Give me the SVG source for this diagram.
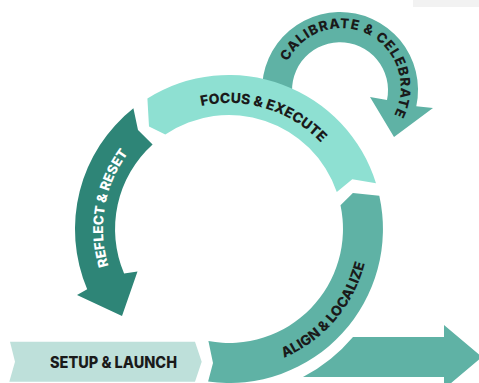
<svg xmlns="http://www.w3.org/2000/svg" width="479" height="383" viewBox="0 0 479 383">
  <style>
    .lbl { font-family: Inter, Lato, "Liberation Sans", sans-serif; font-weight: 800; fill: #1a1a1a; }
    .light { fill: #8ee0d2; }
    .mid { fill: #5fb2a5; }
    .dark { fill: #2e8577; }
    .pale { fill: #bee0da; }
  </style>
  <defs>
    <!-- baselines for the curved labels -->
    <path id="tp-cal" d="M283.6,72.7 A59.5,59.5 0 1 1 387.1,125.5"/>
    <path id="tp-focus" d="M143.1,136.8 A126,126 0 0 1 351.8,200.7"/>
    <path id="tp-reflect" d="M148,325.5 A126,126 0 0 1 185.9,110.6"/>
    <path id="tp-align" d="M203.5,366.7 A140,140 0 0 0 361,182.3"/>
  </defs>

  <rect x="413" y="0" width="66" height="7" fill="#f2f2f2"/>

  <!-- side loop, partly tucked under the top band -->
  <g id="calibrate">
    <path class="mid" d="M264.7,110.2 A78,78 0 1 1 416.3,106.2 L433,108 L394,137 L370,97 L387,100 A48,48 0 1 0 293.6,102.4 Z"/>
    <text class="lbl" font-size="13.5" letter-spacing="0.9"><textPath href="#tp-cal" startOffset="50%" text-anchor="middle">CALIBRATE &amp; CELEBRATE</textPath></text>
  </g>

  <g id="focus">
    <path class="light" d="M147.4,98.4 A154,154 0 0 1 376,183.2 L352.3,179.2 L336.8,191.9 A114,114 0 0 0 165.3,134.5 L149,126.6 Z"/>
    <text class="lbl" font-size="14"><textPath href="#tp-focus" startOffset="50%" text-anchor="middle">FOCUS &amp; EXECUTE</textPath></text>
  </g>

  <g id="align">
    <path class="mid" d="M379.3,195.7 A154,154 0 0 1 208.1,381.6 L213,363.1 L208.4,341.1 A114,114 0 0 0 340.5,205.3 L352.9,193 Z"/>
    <text class="lbl" font-size="14"><textPath href="#tp-align" startOffset="50%" text-anchor="middle">ALIGN &amp; LOCALIZE</textPath></text>
  </g>

  <g id="reflect">
    <path class="dark" d="M133.4,108.3 A154,154 0 0 0 87.2,289.2 L77,295 L122,316 L137.5,271.5 L124.1,273.5 A114,114 0 0 1 152.6,144.4 L138,130 Z"/>
    <text class="lbl" font-size="13.5" style="fill:#ffffff"><textPath href="#tp-reflect" startOffset="50%" text-anchor="middle">REFLECT &amp; RESET</textPath></text>
  </g>

  <g id="setup">
    <path class="pale" d="M10,341.7 L195,341.7 L201.7,361.7 L195,381.7 L9.3,381.7 L15,361.7 Z"/>
    <text class="lbl" x="113.5" y="367.7" font-size="15.5" text-anchor="middle" textLength="127" lengthAdjust="spacingAndGlyphs">SETUP &amp; LAUNCH</text>
  </g>

  <g id="connectors">
    <path class="mid" d="M353,337 L444,337 L444,325 L482,357 L444,389 L444,377 L303,377 A165,165 0 0 0 353,337 Z"/>
  </g>
</svg>
